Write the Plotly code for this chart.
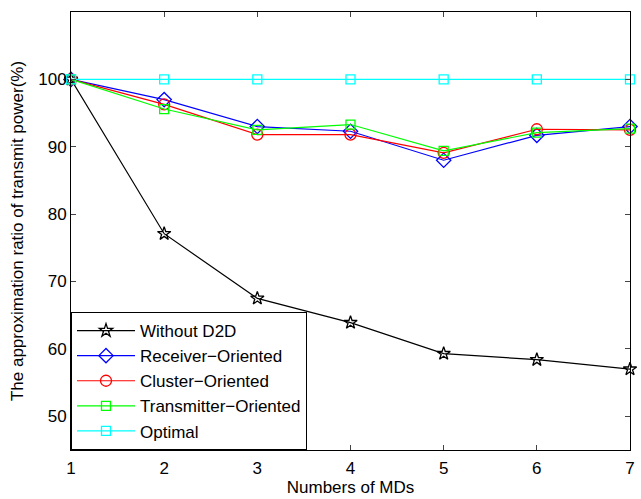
import plotly.graph_objects as go

# Number of MDs on the horizontal axis
num_mds = [1, 2, 3, 4, 5, 6, 7]

# Approximation ratio of transmit power (%) for each scheme
without_d2d = [100, 77.1, 67.5, 63.9, 59.3, 58.4, 57.0]
receiver_oriented = [100, 97.0, 93.0, 92.3, 88.0, 91.7, 93.0]
cluster_oriented = [100, 96.3, 91.8, 91.8, 89.1, 92.6, 92.5]
transmitter_oriented = [100, 95.6, 92.5, 93.3, 89.4, 92.1, 92.7]
optimal = [100, 100, 100, 100, 100, 100, 100]

y_ticks = [50, 60, 70, 80, 90, 100]

series = [
    ("Without D2D", without_d2d, "black", "star-open", 10),
    ("Receiver\u2212Oriented", receiver_oriented, "#0000ff", "diamond-open", 11),
    ("Cluster\u2212Oriented", cluster_oriented, "#ff0000", "circle-open", 11),
    ("Transmitter\u2212Oriented", transmitter_oriented, "#00ff00", "square-open", 9),
    ("Optimal", optimal, "#00ffff", "square-open", 9),
]

fig = go.Figure()
for name, values, color, symbol, size in series:
    fig.add_trace(go.Scatter(
        x=num_mds, y=values, name=name, mode="lines+markers",
        line=dict(color=color, width=1.2),
        marker=dict(symbol=symbol, size=size, color=color,
                    line=dict(color=color, width=1.3)),
        cliponaxis=False,
    ))

font_family = "Liberation Sans, Arial, Helvetica, sans-serif"
fsize = 17
axis_common = dict(
    showline=True, mirror="ticks", linecolor="black", linewidth=1,
    ticks="inside", ticklen=5, tickcolor="#444", tickwidth=1,
    showgrid=False, zeroline=False,
    tickfont=dict(family=font_family, size=fsize, color="black"),
)

fig.update_layout(
    width=641, height=499,
    margin=dict(l=71, r=6, t=12, b=42),
    paper_bgcolor="white", plot_bgcolor="white",
    font=dict(family=font_family, size=fsize, color="black"),
    xaxis=dict(range=[1, 7], tickvals=num_mds, ticklabelstandoff=3,
               title=dict(text="Numbers of MDs", standoff=3,
                          font=dict(family=font_family, size=fsize, color="black")),
               **axis_common),
    yaxis=dict(range=[45, 110], tickvals=y_ticks, ticklabelstandoff=0,
               title=dict(text="The approximation ratio of transmit power(%)",
                          standoff=10,
                          font=dict(family=font_family, size=fsize, color="black")),
               **axis_common),
    legend=dict(
        x=0, y=0, xanchor="left", yanchor="bottom",
        bgcolor="white", bordercolor="black", borderwidth=1,
        font=dict(family=font_family, size=fsize, color="black"),
        itemwidth=58, tracegroupgap=0,
    ),
    showlegend=True,
)

fig.write_html("out.html")
